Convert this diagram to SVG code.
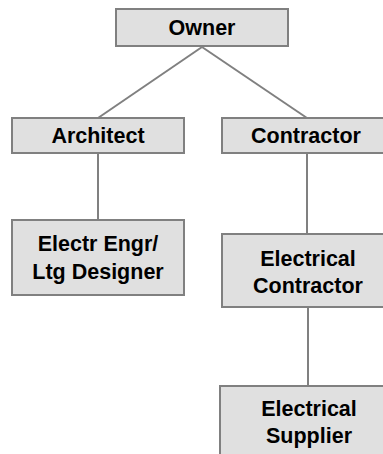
<svg xmlns="http://www.w3.org/2000/svg" width="383" height="454" viewBox="0 0 383 454">
<style>
.box{fill:#e0e0e0;stroke:#808080;stroke-width:2}
.lbl{font-family:"Liberation Sans",Arial,sans-serif;font-weight:bold;font-size:21.5px;fill:#000;text-anchor:middle}
.conn{stroke:#808080;stroke-width:2;fill:none}
</style>
<rect width="383" height="454" fill="#fff"/>
<g id="connectors">
<line class="conn" x1="202" y1="47" x2="98" y2="118"/>
<line class="conn" x1="202" y1="47" x2="307" y2="118"/>
<line class="conn" x1="98" y1="153" x2="98" y2="220"/>
<line class="conn" x1="307" y1="153" x2="307" y2="234"/>
<line class="conn" x1="308" y1="307" x2="308" y2="386"/>
</g>
<g id="owner">
<rect class="box" x="116" y="9" width="172" height="37"/>
<text class="lbl" x="202" y="35">Owner</text>
</g>
<g id="architect">
<rect class="box" x="12" y="118" width="172" height="35"/>
<text class="lbl" x="98" y="143">Architect</text>
</g>
<g id="contractor">
<rect class="box" x="222" y="118" width="170" height="35"/>
<text class="lbl" x="306" y="143">Contractor</text>
</g>
<g id="electr-engr">
<rect class="box" x="12" y="220" width="172" height="75"/>
<text class="lbl" x="98" y="251">Electr Engr/</text>
<text class="lbl" x="98" y="279">Ltg Designer</text>
</g>
<g id="electrical-contractor">
<rect class="box" x="222" y="234" width="172" height="73"/>
<text class="lbl" x="308" y="266">Electrical</text>
<text class="lbl" x="308" y="293">Contractor</text>
</g>
<g id="electrical-supplier">
<rect class="box" x="220" y="386" width="176" height="80"/>
<text class="lbl" x="309" y="416">Electrical</text>
<text class="lbl" x="309" y="443">Supplier</text>
</g>
</svg>
